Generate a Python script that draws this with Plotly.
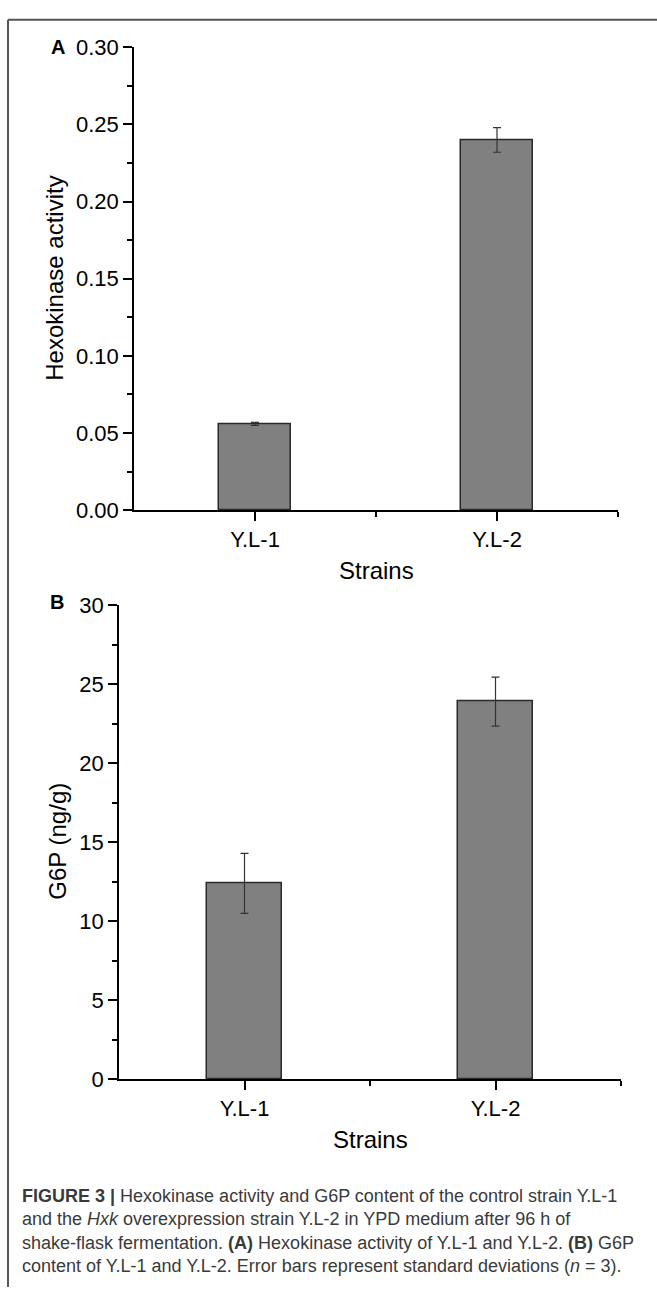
import plotly.graph_objects as go

strains = ["Y.L-1", "Y.L-2"]
hexokinase = [0.056, 0.240]
hexokinase_err = [0.001, 0.008]
g6p = [12.4, 23.9]
g6p_err = [1.9, 1.55]

W, H = 657, 1300
FONT = "Liberation Sans, Arial, sans-serif"

def px_x(p):
    return p / W

def px_y(p):
    return 1 - p / H

fig = go.Figure()
xpos = list(range(len(strains)))

bar_style = dict(marker=dict(color="#808080", line=dict(color="#2a2a2a", width=1.5)),
                 width=0.3, showlegend=False)

fig.add_trace(go.Bar(x=xpos, y=hexokinase,
                     error_y=dict(type="data", array=hexokinase_err, color="#333333",
                                  thickness=1.2, width=4),
                     xaxis="x", yaxis="y", **bar_style))
fig.add_trace(go.Bar(x=xpos, y=g6p,
                     error_y=dict(type="data", array=g6p_err, color="#333333",
                                  thickness=1.2, width=4),
                     xaxis="x2", yaxis="y2", **bar_style))

tickfont = dict(family=FONT, size=22, color="black")

def xaxis_cfg(domain, anchor):
    return dict(domain=domain, anchor=anchor, range=[-0.5, 1.5],
                tickmode="array", tickvals=xpos, ticktext=strains,
                ticks="outside", ticklen=9, tickwidth=1.6, tickcolor="black",
                showline=True, linecolor="black", linewidth=1.6,
                showgrid=False, zeroline=False, tickfont=tickfont,
                minor=dict(tickmode="array", tickvals=[0.5, 1.5], ticks="outside",
                           ticklen=5, tickwidth=1.6, tickcolor="black", showgrid=False))

def yaxis_cfg(domain, anchor, rng, dtick, fmt):
    return dict(domain=domain, anchor=anchor, range=rng, dtick=dtick, tick0=0,
                tickformat=fmt,
                ticks="outside", ticklen=9, tickwidth=1.6, tickcolor="black",
                showline=True, linecolor="black", linewidth=1.6,
                showgrid=False, zeroline=False, tickfont=tickfont,
                minor=dict(dtick=dtick / 2, tick0=0, ticks="outside", ticklen=5,
                           tickwidth=1.6, tickcolor="black", showgrid=False))

fig.update_layout(
    width=W, height=H,
    margin=dict(l=0, r=0, t=0, b=0),
    paper_bgcolor="white", plot_bgcolor="white",
    font=dict(family=FONT, color="black"),
    xaxis=xaxis_cfg([px_x(134), px_x(618)], "y"),
    yaxis=yaxis_cfg([px_y(508), px_y(36)], "x", [0, 0.30], 0.05, ".2f"),
    xaxis2=xaxis_cfg([px_x(119), px_x(621)], "y2"),
    yaxis2=yaxis_cfg([px_y(1088), px_y(605)], "x2", [0, 30], 5, "d"),
    bargap=0,
)

annotations = [
    dict(text="<b>A</b>", x=px_x(58), y=px_y(36), font=dict(size=20)),
    dict(text="<b>B</b>", x=px_x(57), y=px_y(602), font=dict(size=20)),
    dict(text="Hexokinase activity", x=px_x(55), y=px_y(272), textangle=-90,
         font=dict(size=24)),
    dict(text="G6P (ng/g)", x=px_x(58), y=px_y(846), textangle=-90,
         font=dict(size=24)),
    dict(text="Strains", x=px_x(376), y=px_y(569), font=dict(size=24)),
    dict(text="Strains", x=px_x(370), y=px_y(1150), font=dict(size=24)),
]
caption = ("<b>FIGURE 3 |</b> Hexokinase activity and G6P content of the control strain Y.L-1<br>"
           "and the <i>Hxk</i> overexpression strain Y.L-2 in YPD medium after 96 h of<br>"
           "shake-flask fermentation. <b>(A)</b> Hexokinase activity of Y.L-1 and Y.L-2. <b>(B)</b> G6P<br>"
           "content of Y.L-1 and Y.L-2. Error bars represent standard deviations (<i>n</i> = 3).")
for a in annotations:
    a.update(xref="paper", yref="paper", showarrow=False, xanchor="center", yanchor="middle")
    a["font"].update(family=FONT, color="black")
    fig.add_annotation(**a)

fig.add_annotation(text=caption, xref="paper", yref="paper", x=px_x(20), y=px_y(1195),
                   xanchor="left", yanchor="top", align="left", showarrow=False,
                   font=dict(family="Liberation Sans Narrow, Arial Narrow, Liberation Sans, sans-serif",
                             size=18, color="#3a3a3a"))

# figure frame (top and left edges)
fig.add_shape(type="line", xref="paper", yref="paper", x0=px_x(8), x1=1, y0=px_y(8), y1=px_y(8),
              line=dict(color="#555555", width=2))
fig.add_shape(type="line", xref="paper", yref="paper", x0=px_x(8), x1=px_x(8), y0=px_y(8), y1=0,
              line=dict(color="#555555", width=2))

fig.write_html("out.html")
